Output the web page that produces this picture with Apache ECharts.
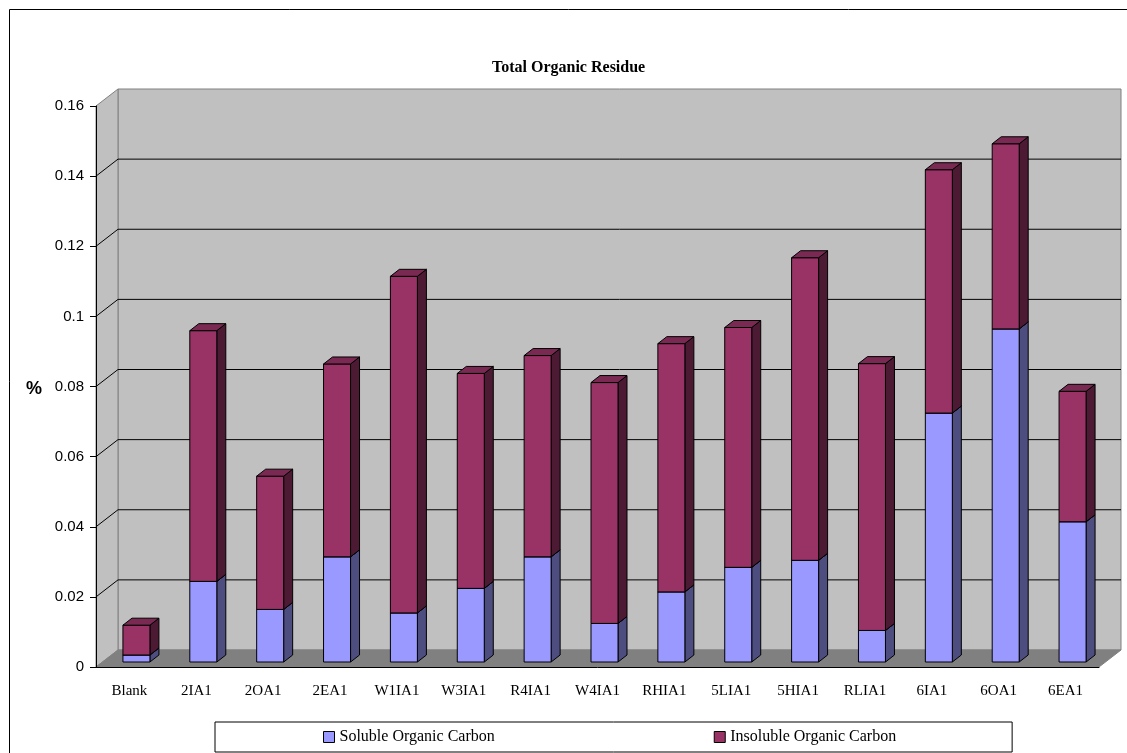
<!DOCTYPE html>
<html>
<head>
<meta charset="utf-8">
<script src="https://cdn.jsdelivr.net/npm/echarts@6/dist/echarts.min.js"></script>
<style>
  html, body { margin: 0; padding: 0; background: #fff; }
  #chart { width: 1127px; height: 753px; }
</style>
</head>
<body>
<div id="chart"></div>
<script>
// data
const categories = ['Blank', '2IA1', '2OA1', '2EA1', 'W1IA1', 'W3IA1', 'R4IA1', 'W4IA1', 'RHIA1', '5LIA1', '5HIA1', 'RLIA1', '6IA1', '6OA1', '6EA1'];
const soluble = [0.002, 0.023, 0.015, 0.030, 0.014, 0.021, 0.030, 0.011, 0.020, 0.027, 0.029, 0.009, 0.071, 0.095, 0.040];
const insoluble = [0.0085, 0.0715, 0.038, 0.055, 0.096, 0.0613, 0.0574, 0.0687, 0.0708, 0.0684, 0.0863, 0.0761, 0.0694, 0.0528, 0.0372];
const gridTicks = [0.02, 0.04, 0.06, 0.08, 0.1, 0.12, 0.14];

// fake 3d offsets (px)
const DEPTH = [22, -17];
const BAR_OFF = [7, -5];
const BAR_DEPTH = [9, -7];
const BAR_W = 27;

const SERIF = '"Liberation Serif", "Times New Roman", serif';
const SANS = '"Liberation Sans", Arial, sans-serif';

// walls + floor, built from the grid rect
function renderWalls(params, api) {
  const cs = params.coordSys;
  const x0 = cs.x, y0 = cs.y, w = cs.width, h = cs.height;
  const dx = DEPTH[0], dy = DEPTH[1];
  const edge = { stroke: '#808080', lineWidth: 1 };
  return {
    type: 'group',
    children: [
      { type: 'polygon', shape: { points: [[x0 + dx, y0 + dy], [x0 + w + dx, y0 + dy], [x0 + w + dx, y0 + h + dy], [x0 + dx, y0 + h + dy]] },
        style: Object.assign({ fill: '#C0C0C0' }, edge) },
      { type: 'polygon', shape: { points: [[x0, y0], [x0 + dx, y0 + dy], [x0 + dx, y0 + h + dy], [x0, y0 + h]] },
        style: Object.assign({ fill: '#C0C0C0' }, edge) },
      { type: 'polygon', shape: { points: [[x0, y0 + h], [x0 + dx, y0 + h + dy], [x0 + w + dx, y0 + h + dy], [x0 + w, y0 + h]] },
        style: Object.assign({ fill: '#808080' }, edge) }
    ]
  };
}

// gridline on side wall + back wall
function renderGridLine(params, api) {
  const cs = params.coordSys;
  const y = api.coord([0, api.value(1)])[1];
  const x0 = cs.x, w = cs.width;
  return {
    type: 'polyline',
    shape: { points: [[x0, y], [x0 + DEPTH[0], y + DEPTH[1]], [x0 + w + DEPTH[0], y + DEPTH[1]]] },
    style: { stroke: '#000', lineWidth: 1, fill: null }
  };
}

function makeBox(api, lo, hi, front, side, top) {
  const i = api.value(0);
  const cx = api.coord([i, 0])[0] + BAR_OFF[0];
  const yl = api.coord([i, lo])[1] + BAR_OFF[1];
  const yh = api.coord([i, hi])[1] + BAR_OFF[1];
  const xl = cx - BAR_W / 2, xr = cx + BAR_W / 2;
  const bx = BAR_DEPTH[0], by = BAR_DEPTH[1];
  const line = { stroke: '#000', lineWidth: 1 };
  const kids = [
    { type: 'polygon', shape: { points: [[xr, yh], [xr + bx, yh + by], [xr + bx, yl + by], [xr, yl]] }, style: Object.assign({ fill: side }, line) },
    { type: 'rect', shape: { x: xl, y: yh, width: BAR_W, height: yl - yh }, style: Object.assign({ fill: front }, line) }
  ];
  if (top) {
    kids.push({ type: 'polygon', shape: { points: [[xl, yh], [xl + bx, yh + by], [xr + bx, yh + by], [xr, yh]] }, style: Object.assign({ fill: top }, line) });
  }
  return { type: 'group', children: kids };
}

const solData = categories.map((c, i) => [i, soluble[i]]);
const insData = categories.map((c, i) => [i, soluble[i], soluble[i] + insoluble[i]]);

const chart = echarts.init(document.getElementById('chart'));
chart.setOption({
  animation: false,
  title: {
    text: 'Total Organic Residue',
    left: 487, top: 55,
    textStyle: { fontFamily: SERIF, fontSize: 16, fontWeight: 'bold', color: '#000' }
  },
  legend: {
    data: ['Soluble Organic Carbon', 'Insoluble Organic Carbon'],
    left: 215, top: 722,
    padding: [7, 116, 7, 108],
    itemGap: 219,
    icon: 'rect', itemWidth: 11, itemHeight: 11,
    itemStyle: { borderColor: '#000', borderWidth: 1 },
    borderColor: '#000', borderWidth: 1,
    backgroundColor: '#fff',
    textStyle: { fontFamily: SERIF, fontSize: 16, color: '#000' }
  },
  graphic: [
    { type: 'rect', left: 7, top: 7, shape: { width: 1300, height: 900 }, style: { fill: null, stroke: '#000', lineWidth: 1 }, z: -1 },
    { type: 'text', left: 26, top: 380, style: { text: '%', font: 'bold 18px ' + SANS, fill: '#000' } }
  ],
  grid: { left: 96, right: 28, top: 106, bottom: 86 },
  xAxis: {
    type: 'category',
    data: categories,
    z: 10,
    axisLine: { lineStyle: { color: '#000', width: 1 } },
    axisTick: { length: 8, lineStyle: { color: '#000' } },
    axisLabel: { margin: 17, fontFamily: SERIF, fontSize: 15, color: '#000' }
  },
  yAxis: {
    type: 'value',
    min: 0, max: 0.16, interval: 0.02,
    z: 10,
    axisLine: { show: true, lineStyle: { color: '#000', width: 1 } },
    axisTick: { show: true, length: 6, lineStyle: { color: '#000' } },
    axisLabel: { margin: 12, fontFamily: SANS, fontSize: 15, color: '#000' },
    splitLine: { show: false }
  },
  series: [
    { type: 'custom', name: 'walls', z: 1, silent: true, renderItem: renderWalls, data: [[0, 0]] },
    { type: 'custom', name: 'grid', z: 1, silent: true, renderItem: renderGridLine, data: gridTicks.map(v => [0, v]) },
    {
      type: 'custom', name: 'Soluble Organic Carbon', z: 3,
      itemStyle: { color: '#9999FF' },
      encode: { x: 0, y: 1 },
      renderItem: (params, api) => makeBox(api, 0, api.value(1), '#9999FF', '#4D4D80', '#7A7ACC'),
      data: solData
    },
    {
      type: 'custom', name: 'Insoluble Organic Carbon', z: 3,
      itemStyle: { color: '#993366' },
      encode: { x: 0, y: 2 },
      renderItem: (params, api) => makeBox(api, api.value(1), api.value(2), '#993366', '#4D1A33', '#7A2952'),
      data: insData
    }
  ]
});
</script>
</body>
</html>
